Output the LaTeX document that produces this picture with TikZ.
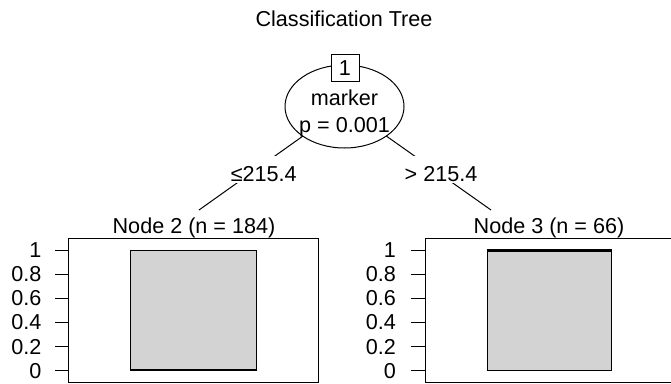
\documentclass[tikz,border=0pt]{standalone}
\usepackage{fontspec}
\setmainfont{Liberation Sans}
\usetikzlibrary{shapes.geometric,backgrounds}
\definecolor{barfill}{HTML}{D3D3D3}
\begin{document}
\begin{tikzpicture}[x=1pt,y=-1pt,
  every node/.style={font=\fontsize{21.6pt}{26pt}\selectfont, inner sep=0pt},
  thin line/.style={line width=1pt, draw=black},
  edgelabel/.style={fill=white, anchor=base, text height=23pt, text depth=0pt, inner xsep=2pt, inner ysep=2pt},
  ticklabel/.style={anchor=east},
  bar/.style={fill=barfill, draw=black, line width=1pt},
  panel/.style={draw=black, line width=1pt}]
\useasboundingbox (0,0) rectangle (671,383);
\clip (0,0) rectangle (671,383);

% title
\node[anchor=base] (title) at (344,26) {Classification Tree};

% inner node 1
\node[ellipse, draw=black, line width=1pt, fill=white, minimum width=119pt, minimum height=83pt] (n1) at (344.5,106.5) {};
\node[thin line, fill=white, minimum width=28pt, minimum height=26.5pt] (id1) at (345,68.2) {1};
\node[anchor=base] (n1var) at (344.5,105.5) {marker};
\node[anchor=base] (n1p) at (344.5,132.5) {p = 0.001};

% edge labels
\node[edgelabel] (e2) at (263.7,181) {≤215.4};
\node[edgelabel] (e3) at (441,181) {> 215.4};

% ends of the edges (under the node titles)
\coordinate (c2) at (199,210);
\coordinate (c3) at (491,210);

\begin{scope}[on background layer]
  \draw[line width=1pt] (n1.center) -- (c2);
  \draw[line width=1pt] (n1.center) -- (c3);
\end{scope}

% terminal node 2
\node[anchor=base] (t2) at (194,233.5) {Node 2 (n = 184)};
\draw[panel] (68,238) rectangle (318,382);
\path[bar] (130.7,250) rectangle (256.7,370.7);
\draw[line width=2.4pt] (130.7,370.2) -- (256.7,370.2);
\foreach \v/\lab in {0/0,1/0.2,2/0.4,3/0.6,4/0.8,5/1}{
  \pgfmathsetmacro{\yy}{370.7-24.14*\v}
  \draw[line width=1pt] (55,\yy) -- (68,\yy);
  \node[ticklabel] at (41.7,\yy) {\lab};
}

% terminal node 3
\node[anchor=base] (t3) at (549,233.5) {Node 3 (n = 66)};
\draw[panel] (425,238) rectangle (680,382);
\path[bar] (487.3,250) rectangle (611.7,370.7);
\draw[line width=2.4pt] (487.3,250.5) -- (611.7,250.5);
\foreach \v/\lab in {0/0,1/0.2,2/0.4,3/0.6,4/0.8,5/1}{
  \pgfmathsetmacro{\yy}{370.7-24.14*\v}
  \draw[line width=1pt] (410.7,\yy) -- (425,\yy);
  \node[ticklabel] at (396,\yy) {\lab};
}
\end{tikzpicture}
\end{document}
